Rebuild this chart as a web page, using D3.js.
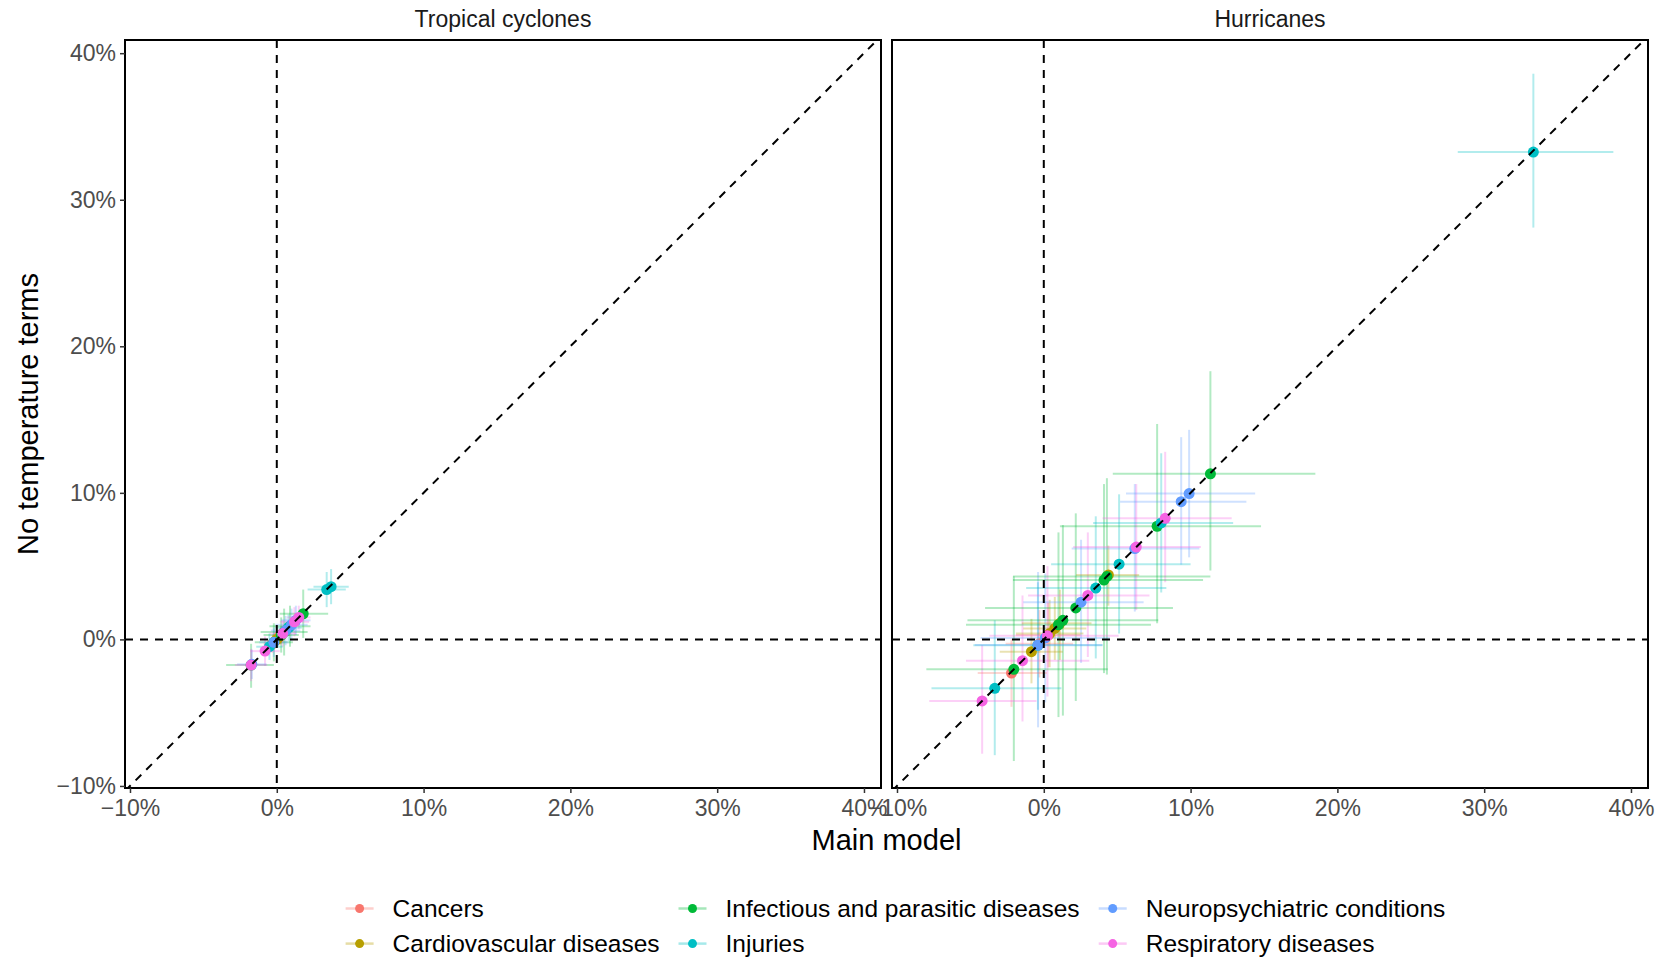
<!DOCTYPE html>
<html>
<head>
<meta charset="utf-8">
<script src="https://cdn.jsdelivr.net/npm/d3@7"></script>
<style>
  html, body { margin: 0; padding: 0; background: #fff; }
  svg { display: block; font-family: "Liberation Sans", Arial, Helvetica, sans-serif; }
</style>
</head>
<body>
<svg id="chart" width="1668" height="960"></svg>
<script>
// ---------------- DATA ----------------
const categories = ["Cancers", "Cardiovascular diseases", "Infectious and parasitic diseases",
                    "Injuries", "Neuropsychiatric conditions", "Respiratory diseases"];
const categoryColors = ["#F8766D", "#B79F00", "#00BA38", "#00BFC4", "#619CFF", "#F564E3"];
const panelTitles = ["Tropical cyclones", "Hurricanes"];
const tickValues = [-10, 0, 10, 20, 30, 40];
const xTitle = "Main model";
const yTitle = "No temperature terms";

// Tropical cyclones (percent): category, main model estimate & CI, no-temperature estimate & CI
const tcCat       = [0, 0, 0, 1, 1, 1, 2, 2, 2, 2, 2, 2, 3, 3, 3, 3, 4, 4, 4, 4, 4, 5, 5, 5, 5, 5];
const tcMain      = [-0.3, 0.1, 0.2, 0.0, 0.3, 0.6, -1.75, 1.8, 0.5, 0.9, -0.2, 0.3, 3.4, 3.7, 0.8, -0.5, -1.7, 0.6, 1.0, 1.3, -0.2, -1.75, -0.8, 1.2, 0.4, 1.5];
const tcMainLo    = [-0.9, -0.4, -0.2, -0.5, -0.3, 0.1, -3.45, 0.2, -1.1, -0.5, -1.5, -0.9, 2.1, 2.5, -0.1, -1.4, -2.7, -0.4, -0.1, 0.3, -1.2, -2.85, -1.8, 0.2, -0.5, 0.7];
const tcMainHi    = [0.3, 0.6, 0.6, 0.5, 0.9, 1.1, -0.2, 3.5, 2.1, 2.3, 1.1, 1.5, 4.7, 4.9, 1.7, 0.4, -0.7, 1.6, 2.1, 2.3, 0.8, -0.65, 0.2, 2.2, 1.3, 2.3];
const tcNoTemp    = [-0.3, 0.1, 0.2, 0.0, 0.3, 0.6, -1.75, 1.75, 0.5, 0.9, -0.2, 0.3, 3.4, 3.6, 0.8, -0.5, -1.7, 0.6, 1.0, 1.3, -0.2, -1.75, -0.8, 1.2, 0.4, 1.5];
const tcNoTempLo  = [-0.9, -0.4, -0.2, -0.5, -0.3, 0.1, -3.3, 0.1, -1.1, -0.5, -1.5, -0.9, 2.2, 2.4, -0.1, -1.4, -2.7, -0.4, -0.1, 0.3, -1.2, -2.85, -1.8, 0.2, -0.5, 0.7];
const tcNoTempHi  = [0.3, 0.6, 0.6, 0.5, 0.9, 1.1, -0.3, 3.4, 2.1, 2.3, 1.1, 1.5, 4.6, 4.8, 1.7, 0.4, -0.7, 1.6, 2.1, 2.3, 0.8, -0.65, 0.2, 2.2, 1.3, 2.3];

// Hurricanes (percent)
const huCat       = [0, 0, 0, 1, 1, 1, 1, 1, 2, 2, 2, 2, 2, 2, 2, 2, 3, 3, 3, 3, 3, 3, 4, 4, 4, 4, 4, 4, 5, 5, 5, 5, 5, 5];
const huMain      = [-2.2, -0.3, 0.3, 4.4, 1.1, 0.75, -0.84, 0.4, 11.35, 7.72, 4.3, 4.1, 2.18, 1.3, -2.04, 1.0, 33.35, 8.0, 5.13, 3.54, -3.34, -0.4, 9.9, 9.36, 6.2, 2.54, -0.39, 0.1, 8.27, 6.3, 3.0, 0.25, -1.45, -4.2];
const huMainLo    = [-4.5, -2.6, -1.9, 2.2, -1.5, -1.4, -3.0, -1.9, 4.7, 1.1, -2.1, -2.1, -4.0, -5.2, -8.0, -5.3, 28.2, 3.36, 0.5, -1.2, -7.65, -4.8, 5.6, 5.2, 1.9, -1.4, -4.7, -4.3, 4.0, 2.0, -1.07, -3.7, -5.3, -7.8];
const huMainHi    = [0.2, 2.0, 2.5, 6.5, 3.25, 2.9, 1.3, 2.7, 18.5, 14.8, 11.35, 10.85, 8.8, 7.8, 4.36, 7.3, 38.8, 12.9, 10.0, 8.35, 1.2, 4.0, 14.4, 13.8, 10.6, 6.8, 4.0, 4.5, 12.8, 10.7, 7.2, 5.1, 3.1, -0.5];
const huNoTemp    = [-2.3, -0.3, 0.3, 4.4, 1.1, 0.75, -0.84, 0.4, 11.3, 7.72, 4.3, 4.05, 2.15, 1.3, -2.04, 1.0, 33.25, 7.95, 5.13, 3.5, -3.34, -0.4, 9.95, 9.4, 6.2, 2.54, -0.39, 0.1, 8.26, 6.3, 3.0, 0.25, -1.45, -4.2];
const huNoTempLo  = [-4.6, -2.6, -1.9, 2.3, -1.4, -1.4, -3.0, -1.9, 4.7, 1.1, -2.4, -2.3, -4.2, -5.2, -8.3, -5.3, 28.1, 3.2, 0.4, -1.3, -7.9, -4.8, 5.6, 5.1, 1.9, -1.6, -6.0, -4.3, 3.9, 2.0, -1.2, -3.9, -5.6, -7.8];
const huNoTempHi  = [0.0, 2.0, 2.5, 6.4, 3.4, 2.9, 1.4, 2.7, 18.3, 14.7, 11.0, 10.6, 8.6, 7.8, 4.3, 7.3, 38.6, 12.7, 9.9, 8.4, 1.3, 3.9, 14.3, 13.8, 10.6, 6.8, 4.6, 4.5, 12.8, 10.6, 7.3, 5.0, 3.0, -0.4];

// ---------------- BUILD ----------------
function buildRows(cat, m, mlo, mhi, n, nlo, nhi) {
  return cat.map((c, i) => ({ cat: c, x: m[i], xlo: mlo[i], xhi: mhi[i], y: n[i], ylo: nlo[i], yhi: nhi[i] }));
}
const panelsData = [
  buildRows(tcCat, tcMain, tcMainLo, tcMainHi, tcNoTemp, tcNoTempLo, tcNoTempHi),
  buildRows(huCat, huMain, huMainLo, huMainHi, huNoTemp, huNoTempLo, huNoTempHi)
];

const svg = d3.select("#chart");
const color = d3.scaleOrdinal().domain(d3.range(categories.length)).range(categoryColors);

const panelTop = 40, panelBottom = 788;
const panelX = [[125, 881], [892, 1648]];
const xDomain = [-10.34, 41.16];
const yDomain = [-10.14, 40.9];
const y = d3.scaleLinear().domain(yDomain).range([panelBottom, panelTop]);
const pct = v => (v < 0 ? "\u2212" : "") + Math.abs(v) + "%";

const defs = svg.append("defs");

panelsData.forEach((rows, p) => {
  const x = d3.scaleLinear().domain(xDomain).range(panelX[p]);
  const x0 = panelX[p][0], x1 = panelX[p][1];
  const clipId = "clip" + p;
  defs.append("clipPath").attr("id", clipId)
    .append("rect").attr("x", x0).attr("y", panelTop).attr("width", x1 - x0).attr("height", panelBottom - panelTop);

  const g = svg.append("g").attr("clip-path", `url(#${clipId})`);

  // vertical error bars (no temperature CI)
  g.append("g").selectAll("line").data(rows).join("line")
    .attr("x1", d => x(d.x)).attr("x2", d => x(d.x))
    .attr("y1", d => y(d.ylo)).attr("y2", d => y(d.yhi))
    .attr("stroke", d => color(d.cat)).attr("stroke-opacity", 0.3).attr("stroke-width", 2);
  // horizontal error bars (main model CI)
  g.append("g").selectAll("line").data(rows).join("line")
    .attr("y1", d => y(d.y)).attr("y2", d => y(d.y))
    .attr("x1", d => x(d.xlo)).attr("x2", d => x(d.xhi))
    .attr("stroke", d => color(d.cat)).attr("stroke-opacity", 0.3).attr("stroke-width", 2);
  // points
  g.append("g").selectAll("circle").data(rows).join("circle")
    .attr("cx", d => x(d.x)).attr("cy", d => y(d.y)).attr("r", 5.5)
    .attr("fill", d => color(d.cat));

  // reference lines
  const dash = "8,7";
  g.append("line").attr("x1", x(0)).attr("x2", x(0)).attr("y1", panelTop).attr("y2", panelBottom)
    .attr("stroke", "#000").attr("stroke-width", 2).attr("stroke-dasharray", dash);
  g.append("line").attr("x1", x0).attr("x2", x1).attr("y1", y(0)).attr("y2", y(0))
    .attr("stroke", "#000").attr("stroke-width", 2).attr("stroke-dasharray", dash);
  g.append("line").attr("x1", x(xDomain[0])).attr("y1", y(xDomain[0]))
    .attr("x2", x(xDomain[1])).attr("y2", y(xDomain[1]))
    .attr("stroke", "#000").attr("stroke-width", 2).attr("stroke-dasharray", dash);

  // border
  svg.append("rect").attr("x", x0).attr("y", panelTop).attr("width", x1 - x0).attr("height", panelBottom - panelTop)
    .attr("fill", "none").attr("stroke", "#000").attr("stroke-width", 2);

  // x axis
  const xAxis = d3.axisBottom(x).tickValues(tickValues).tickFormat(pct).tickSizeInner(5).tickSizeOuter(0).tickPadding(7);
  const gx = svg.append("g").attr("transform", `translate(0,${panelBottom})`).call(xAxis);
  gx.select(".domain").remove();
  gx.selectAll(".tick line").attr("stroke", "#333").attr("stroke-width", 1.5);
  gx.selectAll(".tick text").attr("fill", "#4D4D4D").style("font-size", "23px")
    .style("font-family", '"Liberation Sans", Arial, sans-serif');

  // strip title
  svg.append("text").attr("x", (x0 + x1) / 2).attr("y", 27).attr("text-anchor", "middle")
    .style("font-size", "23px").attr("fill", "#1A1A1A").text(panelTitles[p]);
});

// y axis (left panel only)
const yAxis = d3.axisLeft(y).tickValues(tickValues).tickFormat(pct).tickSizeInner(5).tickSizeOuter(0).tickPadding(4);
const gy = svg.append("g").attr("transform", `translate(${panelX[0][0]},0)`).call(yAxis);
gy.select(".domain").remove();
gy.selectAll(".tick line").attr("stroke", "#333").attr("stroke-width", 1.5);
gy.selectAll(".tick text").attr("fill", "#4D4D4D").style("font-size", "23px")
  .style("font-family", '"Liberation Sans", Arial, sans-serif');

// axis titles
svg.append("text").attr("x", (panelX[0][0] + panelX[1][1]) / 2).attr("y", 850).attr("text-anchor", "middle")
  .style("font-size", "29px").attr("fill", "#000").text(xTitle);
svg.append("text").attr("transform", `translate(38,${(panelTop + panelBottom) / 2}) rotate(-90)`)
  .attr("text-anchor", "middle").style("font-size", "29px").attr("fill", "#000").text(yTitle);

// legend
const legCols = [359.6, 692.5, 1112.7];
const legRows = [908.5, 943.6];
const leg = svg.append("g").selectAll("g").data(categories).join("g")
  .attr("transform", (d, i) => `translate(${legCols[Math.floor(i / 2)]},${legRows[i % 2]})`);
leg.append("line").attr("x1", -14).attr("x2", 14).attr("y1", 0).attr("y2", 0)
  .attr("stroke", (d, i) => color(i)).attr("stroke-opacity", 0.35).attr("stroke-width", 2.5);
leg.append("circle").attr("r", 4.5).attr("fill", (d, i) => color(i));
leg.append("text").attr("x", 33).attr("y", 0).attr("dy", "0.35em")
  .style("font-size", "24.5px").attr("fill", "#000").text(d => d);
</script>
</body>
</html>
